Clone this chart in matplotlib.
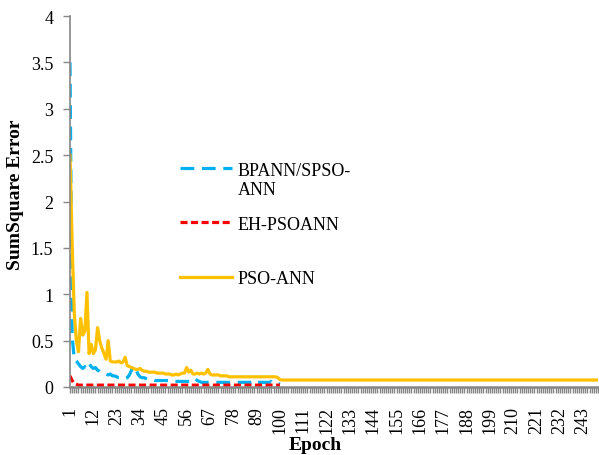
import matplotlib
matplotlib.use("Agg")
import matplotlib.pyplot as plt
from matplotlib.legend_handler import HandlerLine2D
from matplotlib.lines import Line2D
import numpy as np

plt.rcParams['font.family'] = ['Liberation Serif', 'DejaVu Serif']

# ---------------- data ----------------
epochs_pso = list(range(1, 251))
epochs_100 = list(range(1, 101))

bpann = [3.5, 0.55, 0.30, 0.28, 0.25, 0.22, 0.20, 0.22, 0.20, 0.25,
         0.22, 0.20, 0.21, 0.18, 0.17, 0.15, 0.15, 0.14, 0.13, 0.14,
         0.12, 0.12, 0.11, 0.10, 0.10, 0.09, 0.09, 0.10, 0.13, 0.18,
         0.23, 0.19, 0.14, 0.11, 0.10, 0.10, 0.09, 0.08, 0.08, 0.08,
         0.07, 0.07, 0.07, 0.07, 0.07, 0.07, 0.07, 0.07, 0.06, 0.06,
         0.06, 0.06, 0.06, 0.06, 0.06, 0.06, 0.06, 0.06, 0.08, 0.09,
         0.07, 0.06, 0.05, 0.05, 0.05, 0.05, 0.05, 0.05, 0.05, 0.05,
         0.05, 0.05, 0.05, 0.05, 0.05, 0.05, 0.05, 0.05, 0.05, 0.05,
         0.05, 0.05, 0.05, 0.05, 0.05, 0.05, 0.06, 0.07, 0.05, 0.05,
         0.05, 0.05, 0.05, 0.05, 0.05, 0.06, 0.04, 0.04, 0.04, 0.03]

eh_pso = [0.12, 0.07, 0.04, 0.03, 0.02] + [0.02] * 95

pso = [2.5, 1.55, 0.80, 0.50, 0.38, 0.74, 0.56, 0.60, 1.02, 0.36,
       0.46, 0.36, 0.40, 0.64, 0.50, 0.42, 0.36, 0.30, 0.50, 0.28,
       0.27, 0.27, 0.27, 0.28, 0.26, 0.27, 0.32, 0.23, 0.22, 0.21,
       0.20, 0.19, 0.19, 0.20, 0.18, 0.17, 0.17, 0.16, 0.16, 0.16,
       0.16, 0.15, 0.15, 0.15, 0.15, 0.14, 0.14, 0.14, 0.13, 0.13,
       0.14, 0.13, 0.14, 0.15, 0.15, 0.21, 0.16, 0.18, 0.14, 0.14,
       0.15, 0.14, 0.15, 0.14, 0.15, 0.19, 0.14, 0.13, 0.13, 0.13,
       0.13, 0.12, 0.12, 0.12, 0.12, 0.11, 0.11, 0.11, 0.11, 0.11,
       0.11, 0.11, 0.11, 0.11, 0.11, 0.11, 0.11, 0.11, 0.11, 0.11,
       0.11, 0.11, 0.11, 0.11, 0.11, 0.11, 0.11, 0.11, 0.10, 0.08] + [0.075] * 150

x_label_values = [1, 12, 23, 34, 45, 56, 67, 78, 89, 100, 111, 122, 133,
                  144, 155, 166, 177, 188, 199, 210, 221, 232, 243]
y_ticks = [0, 0.5, 1, 1.5, 2, 2.5, 3, 3.5, 4]
y_tick_labels = ["0", "0.5", "1", "1.5", "2", "2.5", "3", "3.5", "4"]

series_names = ["BPANN/SPSO-\nANN", "EH-PSOANN", "PSO-ANN"]

# ---------------- figure ----------------
W, H = 599, 456
fig = plt.figure(figsize=(W / 100, H / 100), dpi=100)
ax = fig.add_axes([70 / W, 1 - 388 / H, 528 / W, (388 - 17) / H])

blue = '#00B0F0'
red = '#FF0000'
yellow = '#FFC000'
grey = '#868686'
fs = 13

l_blue, = ax.plot(epochs_100, bpann, color=blue, lw=2.3, dashes=(4.3, 2.4),
                  solid_capstyle='butt', dash_capstyle='butt', label=series_names[0])
l_red, = ax.plot(epochs_100, eh_pso, color=red, lw=2.3, dashes=(2.2, 1.1),
                 dash_capstyle='butt', label=series_names[1])
l_yel, = ax.plot(epochs_pso, pso, color=yellow, lw=2.3, label=series_names[2])

ax.set_xlim(1, 250)
ax.set_ylim(0, 4)

ax.set_yticks(y_ticks)
ax.set_yticklabels(y_tick_labels, fontsize=fs)
ax.tick_params(axis='y', direction='out', length=5, width=1.0, color=grey, pad=7)

all_ticks = list(range(1, 251))
ax.set_xticks(all_ticks)
ax.set_xticklabels([str(t) if t in x_label_values else "" for t in all_ticks],
                   rotation=90, fontsize=fs)
ax.tick_params(axis='x', direction='out', length=4.5, width=1.0, color=grey, pad=9)

for s in ['top', 'right']:
    ax.spines[s].set_visible(False)
ax.spines['left'].set_color(grey)
ax.spines['left'].set_linewidth(1.2)
ax.spines['bottom'].set_color(grey)
ax.spines['bottom'].set_linewidth(1.8)

ax.set_xlabel("Epoch", fontsize=fs + 1, fontweight='bold')
ax.xaxis.set_label_coords((315 - 70) / 528, (388 - 437) / 371)
ax.set_ylabel("SumSquare Error", fontsize=fs + 1, fontweight='bold')
ax.yaxis.set_label_coords((24 - 70) / 528, (388 - 195) / 371)


class ShiftedHandler(HandlerLine2D):
    def __init__(self, shift, **kw):
        super().__init__(**kw)
        self.shift = shift

    def create_artists(self, legend, orig_handle, xdescent, ydescent, width,
                       height, fontsize, trans):
        arts = super().create_artists(legend, orig_handle, xdescent, ydescent,
                                      width, height, fontsize, trans)
        for a in arts:
            if isinstance(a, Line2D):
                a.set_ydata(np.asarray(a.get_ydata()) + self.shift)
        return arts


hlen = 52 / (fs * 100 / 72)
pad = 6 / (fs * 100 / 72)
legend_specs = [
    (l_blue, series_names[0], 181, ShiftedHandler(shift=fs * 0.7)),
    (l_red, series_names[1], 225, None),
    (l_yel, series_names[2], 280, None),
]
legs = []
for handle, name, ypix, hm in legend_specs:
    kw = {}
    if hm is not None:
        kw['handler_map'] = {handle: hm}
    leg = fig.legend([handle], [name], loc='center left',
                     bbox_to_anchor=(180 / W, 1 - ypix / H),
                     bbox_transform=fig.transFigure, frameon=False,
                     fontsize=fs, handlelength=hlen, handletextpad=pad,
                     borderpad=0, borderaxespad=0, **kw)
    legs.append(leg)

fig.savefig("out.png", dpi=100)
